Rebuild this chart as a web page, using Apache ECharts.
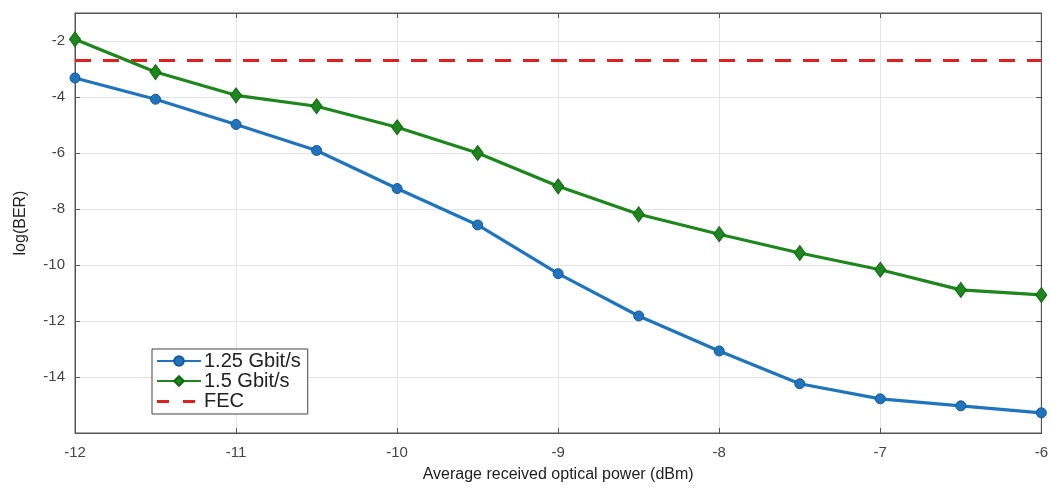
<!DOCTYPE html>
<html>
<head>
<meta charset="utf-8">
<script src="https://cdn.jsdelivr.net/npm/echarts@6/dist/echarts.min.js"></script>
<style>
html,body{margin:0;padding:0;background:#fff;}
#chart{width:1051px;height:496px;}
</style>
</head>
<body>
<div id="chart"></div>
<script>
const xValues = [-12, -11.5, -11, -10.5, -10, -9.5, -9, -8.5, -8, -7.5, -7, -6.5, -6];
const ber125 = [-3.32, -4.08, -4.98, -5.91, -7.27, -8.57, -10.31, -11.82, -13.07, -14.24, -14.78, -15.03, -15.28];
const ber15 = [-1.94, -3.11, -3.94, -4.33, -5.08, -6.0, -7.19, -8.19, -8.9, -9.57, -10.17, -10.89, -11.07];
const fecLevel = -2.7;
const seriesNames = ['1.25 Gbit/s', '1.5 Gbit/s', 'FEC'];
const xLabel = 'Average received optical power (dBm)';
const yLabel = 'log(BER)';

const chart = echarts.init(document.getElementById('chart'), null, {renderer: 'canvas'});
const pair = (xs, ys) => xs.map((x, i) => [x, ys[i]]);
const labelFont = {color: '#444', fontSize: 15, fontFamily: '"Liberation Sans Narrow", "Liberation Sans", Arial, sans-serif'};
const dashIcon = 'path://M0,0h0.01v0.01h-0.01z M0,5h12v3h-12z M26,5h12v3h-12z M43.99,12h0.01v0.01h-0.01z';

const option = {
  backgroundColor: '#fff',
  animation: false,
  grid: {left: 75, right: 9, top: 13, bottom: 63, show: true, borderColor: '#555', borderWidth: 1, backgroundColor: '#fff'},
  legend: {
    left: 152, top: 349, orient: 'vertical',
    backgroundColor: '#fff', borderColor: '#444', borderWidth: 1,
    padding: [2, 7, 3, 4], itemGap: 0, itemWidth: 44, itemHeight: 12,
    textStyle: {fontSize: 20, lineHeight: 18, color: '#222', fontFamily: '"Liberation Sans", Arial, sans-serif', padding: [0, 0, 0, -2]},
    data: [seriesNames[0], seriesNames[1], {name: seriesNames[2], icon: dashIcon, itemStyle: {color: '#e01f1f'}}]
  },
  xAxis: [{
    type: 'value', min: -12, max: -6, interval: 1,
    name: xLabel, nameLocation: 'middle', nameGap: 34,
    nameTextStyle: {fontSize: 16, color: '#222', fontFamily: '"Liberation Sans", Arial, sans-serif'},
    axisLine: {show: true, onZero: false, lineStyle: {color: '#555'}},
    axisTick: {show: true, inside: true, length: 5, lineStyle: {color: '#555'}},
    axisLabel: Object.assign({margin: 12}, labelFont),
    splitLine: {show: true, lineStyle: {color: '#e4e4e4', width: 1}}
  }, {
    type: 'value', min: -12, max: -6, interval: 1, position: 'top',
    axisLine: {show: true, onZero: false, lineStyle: {color: '#555'}},
    axisTick: {show: true, inside: true, length: 5, lineStyle: {color: '#555'}},
    axisLabel: {show: false}, splitLine: {show: false}
  }],
  yAxis: [{
    type: 'value', min: -16, max: -1, interval: 2,
    name: yLabel, nameLocation: 'middle', nameGap: 46, nameRotate: 90,
    nameTextStyle: {fontSize: 16, color: '#222', fontFamily: '"Liberation Sans", Arial, sans-serif'},
    axisLine: {show: true, onZero: false, lineStyle: {color: '#555'}},
    axisTick: {show: true, inside: true, length: 5, lineStyle: {color: '#555'}},
    axisLabel: Object.assign({margin: 10, formatter: v => (v === -16 || v === -1) ? '' : String(v)}, labelFont),
    splitLine: {show: true, lineStyle: {color: '#e4e4e4', width: 1}}
  }, {
    type: 'value', min: -16, max: -1, interval: 2, position: 'right',
    axisLine: {show: true, onZero: false, lineStyle: {color: '#555'}},
    axisTick: {show: true, inside: true, length: 5, lineStyle: {color: '#555'}},
    axisLabel: {show: false}, splitLine: {show: false}
  }],
  series: [{
    name: seriesNames[0], type: 'line', data: pair(xValues, ber125),
    symbol: 'circle', symbolSize: 10,
    lineStyle: {color: '#1f74bd', width: 3.2},
    itemStyle: {color: '#1f74bd', borderColor: '#155a96', borderWidth: 1},
    z: 3
  }, {
    name: seriesNames[1], type: 'line', data: pair(xValues, ber15),
    symbol: 'diamond', symbolSize: [11, 15],
    lineStyle: {color: '#1d861d', width: 3.2},
    itemStyle: {color: '#1d861d', borderColor: '#116611', borderWidth: 1},
    z: 4
  }, {
    name: seriesNames[2], type: 'line', data: [[xValues[0], fecLevel], [xValues[xValues.length - 1], fecLevel]],
    symbol: 'none', showSymbol: false,
    lineStyle: {color: '#e01f1f', width: 3, type: [16, 12]},
    itemStyle: {color: '#e01f1f'},
    z: 2
  }]
};
chart.setOption(option);
</script>
</body>
</html>
